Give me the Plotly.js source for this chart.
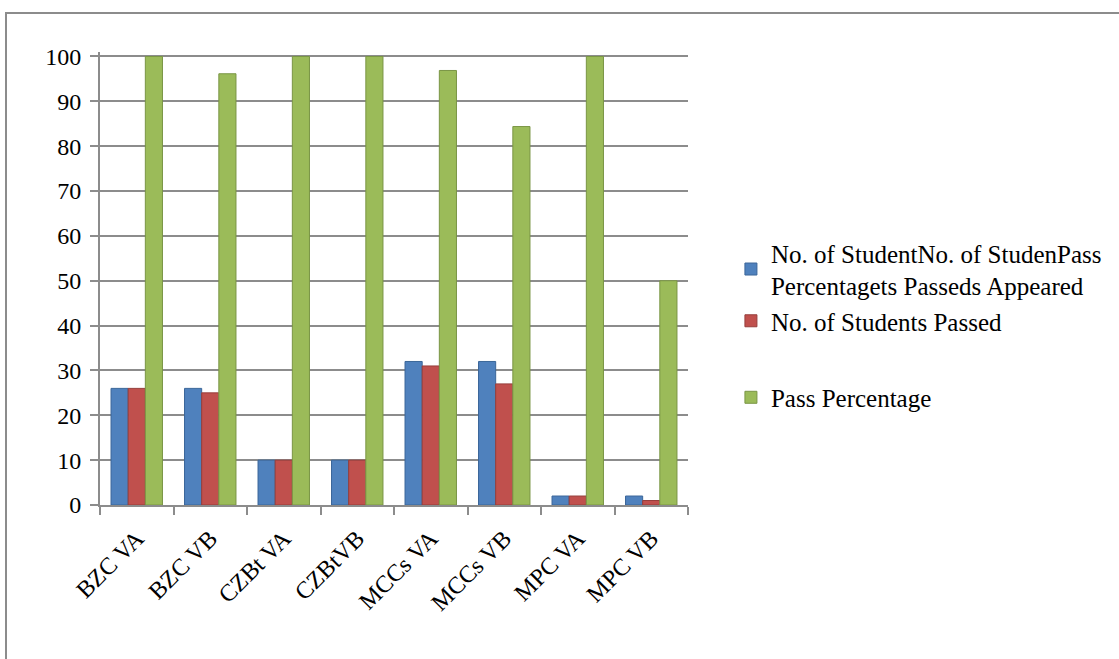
<!DOCTYPE html>
<html>
<head>
<meta charset="utf-8">
<script src="https://cdn.plot.ly/plotly-3.0.1.min.js"></script>
<style>
  html, body { margin: 0; padding: 0; background: #fff; }
  #frame { position: absolute; left: 5px; top: 12px; width: 1130px; height: 660px;
           border-left: 2px solid #8c8c8c; border-top: 2px solid #8c8c8c; }
  #chart { position: absolute; left: 0; top: 0; width: 1119px; height: 659px; }
</style>
</head>
<body>
<div id="frame"></div>
<div id="chart"></div>
<script>
const categories = ["BZC VA", "BZC VB", "CZBt VA", "CZBtVB", "MCCs VA", "MCCs VB", "MPC VA", "MPC VB"];
const appeared = [26, 26, 10, 10, 32, 32, 2, 2];
const passed = [26, 25, 10, 10, 31, 27, 2, 1];
const passPct = [100, 96.15, 100, 100, 96.88, 84.38, 100, 50];
const seriesNames = [
  "No. of StudentNo. of StudenPass<br>Percentagets Passeds Appeared",
  "No. of Students Passed",
  "Pass Percentage"
];

const font = "'Liberation Serif', 'Times New Roman', serif";
const traces = [
  {type: "bar", x: categories, y: appeared, name: seriesNames[0],
   marker: {color: "#4F81BD", line: {color: "#3A6699", width: 1}}, legend: "legend"},
  {type: "bar", x: categories, y: passed, name: seriesNames[1],
   marker: {color: "#C0504D", line: {color: "#963E3B", width: 1}}, legend: "legend"},
  {type: "bar", x: categories, y: passPct, name: seriesNames[2],
   marker: {color: "#9BBB59", line: {color: "#7A9645", width: 1}}, legend: "legend2"}
];

const layout = {
  width: 1119, height: 659,
  margin: {l: 100, r: 429, t: 52, b: 154},
  paper_bgcolor: "rgba(0,0,0,0)",
  plot_bgcolor: "rgba(0,0,0,0)",
  barmode: "group",
  bargap: 0.3,
  bargroupgap: 0,
  font: {family: font, size: 24, color: "#000"},
  showlegend: true,
  xaxis: {
    type: "category",
    tickangle: -45,
    ticks: "outside", tickson: "boundaries", ticklen: 8, tickcolor: "#8c8c8c", tickwidth: 2,
    showline: true, linecolor: "#8c8c8c", linewidth: 2,
    showgrid: false,
    ticklabelstandoff: 8,
    tickfont: {family: font, size: 24, color: "#000"}
  },
  yaxis: {
    range: [0, 101],
    tickvals: [0, 10, 20, 30, 40, 50, 60, 70, 80, 90, 100],
    ticks: "outside", ticklen: 8, tickcolor: "#8c8c8c", tickwidth: 2,
    showline: true, linecolor: "#8c8c8c", linewidth: 2,
    showgrid: true, gridcolor: "#8c8c8c", gridwidth: 2,
    zeroline: false,
    ticklabelstandoff: 4,
    tickfont: {family: font, size: 24, color: "#000"}
  },
  legend: {
    x: 1.073, y: 0.607, xanchor: "left", yanchor: "top",
    font: {family: font, size: 25, color: "#000"},
    bgcolor: "rgba(0,0,0,0)", tracegroupgap: 10, itemwidth: 30
  },
  legend2: {
    x: 1.073, y: 0.288, xanchor: "left", yanchor: "top",
    font: {family: font, size: 25, color: "#000"},
    bgcolor: "rgba(0,0,0,0)", itemwidth: 30
  }
};

Plotly.newPlot("chart", traces, layout, {displayModeBar: false, staticPlot: true});
</script>
</body>
</html>
